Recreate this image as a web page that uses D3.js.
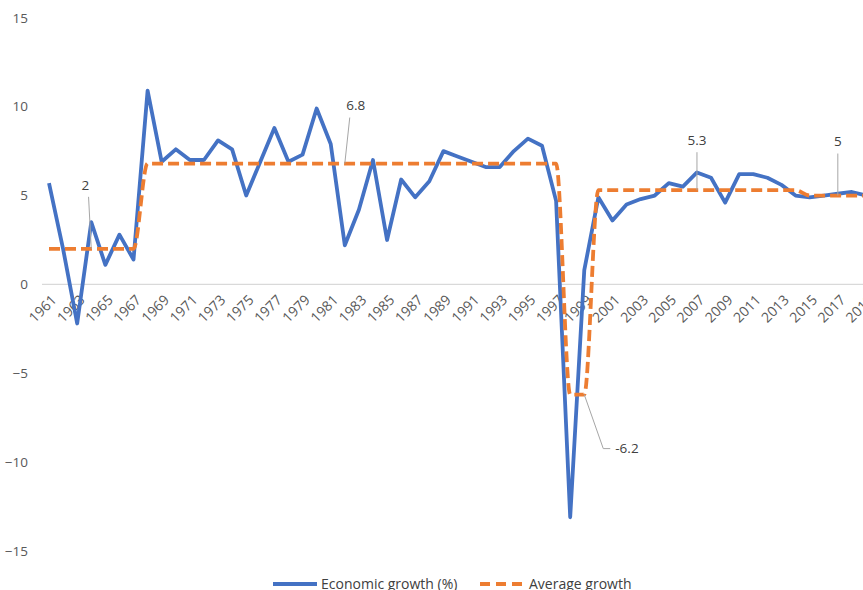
<!DOCTYPE html>
<html>
<head>
<meta charset="utf-8">
<script src="https://cdn.jsdelivr.net/npm/d3@7"></script>
<style>
  body { margin: 0; background: #fff; }
  svg { display: block; font-family: "Open Sans", "Noto Sans", sans-serif; }
  .tick text { fill: #595959; }
</style>
</head>
<body>
<svg width="863" height="590"></svg>
<script>
var years = d3.range(1961, 2020);

// economic growth (%)
var growth = [5.7, 2.0, -2.2, 3.5, 1.1, 2.8, 1.4, 10.9, 6.9, 7.6,
              7.0, 7.0, 8.1, 7.6, 5.0, 6.9, 8.8, 6.9, 7.3, 9.9,
              7.9, 2.2, 4.2, 7.0, 2.5, 5.9, 4.9, 5.8, 7.5, 7.2,
              6.9, 6.6, 6.6, 7.5, 8.2, 7.8, 4.7, -13.1, 0.8, 4.9,
              3.6, 4.5, 4.8, 5.0, 5.7, 5.5, 6.3, 6.0, 4.6, 6.2,
              6.2, 6.0, 5.6, 5.0, 4.9, 5.0, 5.1, 5.2, 5.0];

// average growth per period
var average = [2, 2, 2, 2, 2, 2, 2,
               6.8, 6.8, 6.8, 6.8, 6.8, 6.8, 6.8, 6.8, 6.8, 6.8,
               6.8, 6.8, 6.8, 6.8, 6.8, 6.8, 6.8, 6.8, 6.8, 6.8,
               6.8, 6.8, 6.8, 6.8, 6.8, 6.8, 6.8, 6.8, 6.8, 6.8,
               -6.2, -6.2,
               5.3, 5.3, 5.3, 5.3, 5.3, 5.3, 5.3, 5.3, 5.3, 5.3,
               5.3, 5.3, 5.3, 5.3, 5.3,
               5, 5, 5, 5, 5];

var yTicks = [-15, -10, -5, 0, 5, 10, 15];

// labelled points of the average series: year, label position offsets
var callouts = [
  {year: 1964, text: "2",    dx: -6, dy: -64},
  {year: 1982, text: "6.8",  dx: 11, dy: -58},
  {year: 2007, text: "5.3",  dx: 0,  dy: -50},
  {year: 2017, text: "5",    dx: 0,  dy: -54},
  {year: 1999, text: "-6.2", dx: 37, dy: 54}
];

var svg = d3.select("svg");

var x = d3.scalePoint().domain(years).range([49, 866]);
var y = d3.scaleLinear().domain([-15, 15]).range([551, 17.8]);

// zero line
svg.append("line")
    .attr("x1", 42).attr("x2", 863)
    .attr("y1", y(0)).attr("y2", y(0))
    .attr("stroke", "#d9d9d9").attr("stroke-width", 1.3);

// y axis labels
svg.append("g")
    .attr("transform", "translate(28,0)")
    .call(d3.axisLeft(y).tickValues(yTicks).tickSize(0).tickPadding(0))
    .call(function(g) { g.select(".domain").remove(); })
    .selectAll("text")
    .attr("font-size", 13.5)
    .attr("font-family", "Open Sans, sans-serif");

// x axis labels, every other year, rotated
var xg = svg.append("g");
xg.selectAll("text")
    .data(years.filter(function(d, i) { return i % 2 === 0; }))
  .enter().append("text")
    .attr("transform", function(d) { return "translate(" + (x(d) + 5) + "," + (y(0) + 13) + ") rotate(-45)"; })
    .attr("text-anchor", "end")
    .attr("dy", "0.35em")
    .attr("font-size", 14)
    .attr("fill", "#595959")
    .text(function(d) { return d; });

// lines
var growthLine = d3.line()
    .x(function(d, i) { return x(years[i]); })
    .y(function(d) { return y(d); });

var avgLine = d3.line()
    .x(function(d, i) { return x(years[i]); })
    .y(function(d) { return y(d); })
    .curve(d3.curveMonotoneX);

svg.append("path")
    .datum(growth)
    .attr("fill", "none")
    .attr("stroke", "#4472c4")
    .attr("stroke-width", 3.8)
    .attr("stroke-linejoin", "round")
    .attr("d", growthLine);

svg.append("path")
    .datum(average)
    .attr("fill", "none")
    .attr("stroke", "#ed7d31")
    .attr("stroke-width", 3.8)
    .attr("stroke-dasharray", "11,5")
    .attr("d", avgLine);

// data labels with leader lines
callouts.forEach(function(c) {
  var i = years.indexOf(c.year);
  var px = x(c.year), py = y(average[i]);
  var lx = px + c.dx, ly = py + c.dy;
  if (c.year === 1999) {
    svg.append("polyline")
        .attr("points", [[px, py], [lx - 18, ly], [lx - 11, ly]].join(" "))
        .attr("fill", "none").attr("stroke", "#a6a6a6").attr("stroke-width", 1);
    svg.append("text")
        .attr("x", lx - 6).attr("y", ly).attr("dy", "0.35em")
        .attr("font-size", 13.5).attr("fill", "#404040")
        .text(c.text);
  } else {
    svg.append("line")
        .attr("x1", px).attr("y1", py)
        .attr("x2", lx + (c.dx ? -c.dx * 0.55 : 0)).attr("y2", ly + 12)
        .attr("stroke", "#a6a6a6").attr("stroke-width", 1);
    svg.append("text")
        .attr("x", lx).attr("y", ly).attr("dy", "0.35em")
        .attr("text-anchor", "middle")
        .attr("font-size", 13.5).attr("fill", "#404040")
        .text(c.text);
  }
});

// legend
var legend = svg.append("g").attr("transform", "translate(0,584)");
legend.append("line")
    .attr("x1", 273).attr("x2", 317).attr("y1", 0).attr("y2", 0)
    .attr("stroke", "#4472c4").attr("stroke-width", 3.8);
legend.append("text")
    .attr("x", 321).attr("dy", "0.35em")
    .attr("font-size", 14).attr("fill", "#404040")
    .text("Economic growth (%)");
legend.append("line")
    .attr("x1", 480).attr("x2", 522).attr("y1", 0).attr("y2", 0)
    .attr("stroke", "#ed7d31").attr("stroke-width", 3.8)
    .attr("stroke-dasharray", "10,6");
legend.append("text")
    .attr("x", 529).attr("dy", "0.35em")
    .attr("font-size", 14).attr("fill", "#404040")
    .text("Average growth");
</script>
</body>
</html>
